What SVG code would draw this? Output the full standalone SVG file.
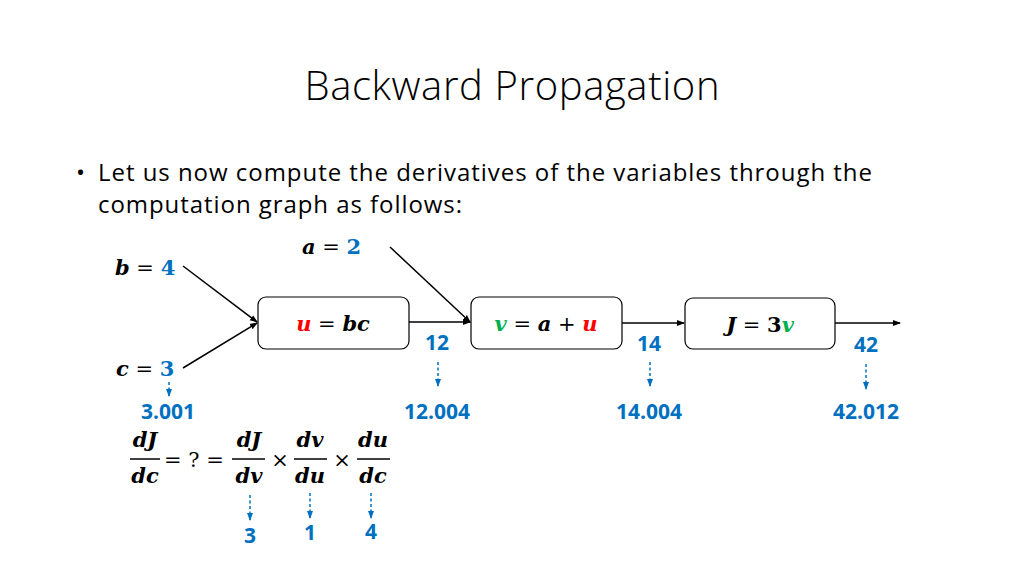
<svg xmlns="http://www.w3.org/2000/svg" width="1024" height="576" viewBox="0 0 1024 576">
<style>
.t{font-family:"Open Sans","Liberation Sans",sans-serif;fill:#000}
.m{font-family:"DejaVu Serif","Liberation Serif",serif;font-weight:bold;font-style:italic;font-size:21px;fill:#000}
.n{font-family:"Open Sans","Liberation Sans",sans-serif;font-weight:bold;font-size:21px;fill:#0070C0}
.op{font-family:"DejaVu Serif",serif;font-style:normal;font-weight:normal}
.r{fill:#FF0000}.g{fill:#00B050}.b{fill:#0070C0;font-style:normal}
.box{fill:#fff;stroke:#000;stroke-width:1.2}
.ln{stroke:#000;stroke-width:1.5;fill:none;marker-end:url(#ah)}
.ds{stroke:#0070C0;stroke-width:1.5;stroke-dasharray:3,2.5;fill:none;marker-end:url(#bh)}
.fr{stroke:#000;stroke-width:1.5}
</style>
<defs>
<marker id="ah" markerWidth="8" markerHeight="8" refX="7" refY="4" orient="auto" markerUnits="userSpaceOnUse"><path d="M0,1 L8,4 L0,7 Z" fill="#000"/></marker>
<marker id="bh" markerWidth="8" markerHeight="8" refX="7" refY="4" orient="auto" markerUnits="userSpaceOnUse"><path d="M0,1 L8,4 L0,7 Z" fill="#0070C0"/></marker>
</defs>
<rect width="1024" height="576" fill="#fff"/>
<text class="t" x="512" y="100" text-anchor="middle" font-size="40" font-weight="300" textLength="415">Backward Propagation</text>
<text class="t" x="76" y="181" font-size="24">•</text>
<text class="t" x="98" y="181" font-size="24" textLength="774">Let us now compute the derivatives of the variables through the</text>
<text class="t" x="98" y="213" font-size="24" textLength="364">computation graph as follows:</text>

<g id="connectors">
<line class="ln" x1="183" y1="266" x2="257" y2="322"/>
<line class="ln" x1="183" y1="368" x2="257" y2="323"/>
<line class="ln" x1="390" y1="247" x2="470" y2="322"/>
<line class="ln" x1="409" y1="322" x2="470" y2="322"/>
<line class="ln" x1="622" y1="323" x2="684" y2="323"/>
<line class="ln" x1="835" y1="323" x2="900" y2="323"/>
<line class="ds" x1="169" y1="382" x2="169" y2="396"/>
<line class="ds" x1="438" y1="362" x2="438" y2="386"/>
<line class="ds" x1="650" y1="362" x2="650" y2="386"/>
<line class="ds" x1="866" y1="364" x2="866" y2="389"/>
<line class="ds" x1="250" y1="495" x2="250" y2="520"/>
<line class="ds" x1="310" y1="493" x2="310" y2="518"/>
<line class="ds" x1="371" y1="493" x2="371" y2="518"/>
</g>

<g id="node-u"><rect class="box" x="258" y="297" width="151" height="52" rx="8"/>
<text class="m" x="333" y="331" text-anchor="middle"><tspan class="r">u</tspan><tspan class="op"> = </tspan>bc</text></g>
<g id="node-v"><rect class="box" x="471" y="297" width="151" height="52" rx="8"/>
<text class="m" x="546" y="331" text-anchor="middle"><tspan class="g">v</tspan><tspan class="op"> = </tspan>a<tspan class="op"> + </tspan><tspan class="r">u</tspan></text></g>
<g id="node-J"><rect class="box" x="685" y="298" width="150" height="51" rx="8"/>
<text class="m" x="760" y="332" text-anchor="middle">J<tspan class="op"> = </tspan><tspan style="font-style:normal">3</tspan><tspan class="g">v</tspan></text></g>

<g id="node-a"><text class="m" x="302" y="254">a<tspan class="op"> = </tspan><tspan class="b">2</tspan></text></g>
<g id="node-b"><text class="m" x="115" y="275">b<tspan class="op"> = </tspan><tspan class="b">4</tspan></text></g>
<g id="node-c"><text class="m" x="116" y="376">c<tspan class="op"> = </tspan><tspan class="b">3</tspan></text></g>

<g id="values">
<text class="n" x="437" y="350" text-anchor="middle">12</text>
<text class="n" x="649" y="351" text-anchor="middle">14</text>
<text class="n" x="866" y="352" text-anchor="middle">42</text>
<text class="n" x="168" y="419" text-anchor="middle">3.001</text>
<text class="n" x="437" y="419" text-anchor="middle">12.004</text>
<text class="n" x="649" y="419" text-anchor="middle">14.004</text>
<text class="n" x="866" y="419" text-anchor="middle">42.012</text>
<text class="n" x="250" y="543" text-anchor="middle">3</text>
<text class="n" x="310" y="540" text-anchor="middle">1</text>
<text class="n" x="371" y="539" text-anchor="middle">4</text>
</g>

<g id="formula">
<text class="m" x="145" y="447" text-anchor="middle">dJ</text>
<line class="fr" x1="130" y1="459" x2="160" y2="459"/>
<text class="m" x="145" y="483" text-anchor="middle">dc</text>
<text class="m" x="194" y="467" text-anchor="middle"><tspan class="op">= ? =</tspan></text>
<text class="m" x="249" y="447" text-anchor="middle">dJ</text>
<line class="fr" x1="232" y1="459" x2="265" y2="459"/>
<text class="m" x="249" y="483" text-anchor="middle">dv</text>
<text class="m" x="280" y="467" text-anchor="middle"><tspan class="op">×</tspan></text>
<text class="m" x="310" y="447" text-anchor="middle">dv</text>
<line class="fr" x1="294" y1="459" x2="327" y2="459"/>
<text class="m" x="310" y="483" text-anchor="middle">du</text>
<text class="m" x="342" y="467" text-anchor="middle"><tspan class="op">×</tspan></text>
<text class="m" x="373" y="447" text-anchor="middle">du</text>
<line class="fr" x1="357" y1="459" x2="390" y2="459"/>
<text class="m" x="373" y="483" text-anchor="middle">dc</text>
</g>
</svg>
